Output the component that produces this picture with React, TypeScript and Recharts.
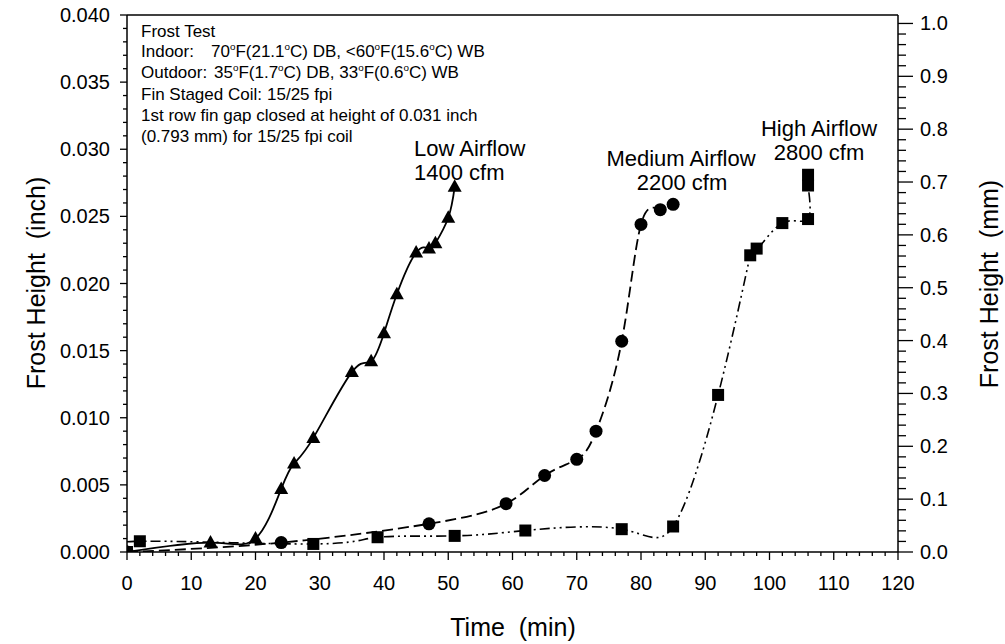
import React from 'react';
import { LineChart, Line, XAxis, YAxis, Customized } from 'recharts';

// Frost height readings (inch) against test time (min)
const lowTime = [0, 13, 20, 24, 26, 29, 35, 38, 40, 42, 45, 47, 48, 50, 51];
const lowFrost = [0, 0.0007, 0.001, 0.0047, 0.0066, 0.0085, 0.0134, 0.0142, 0.0163, 0.0192, 0.0223, 0.0226, 0.023, 0.0249, 0.0272];

const mediumTime = [0, 24, 47, 59, 65, 70, 73, 77, 80, 83, 85];
const mediumFrost = [0, 0.0007, 0.0021, 0.0036, 0.0057, 0.0069, 0.009, 0.0157, 0.0244, 0.0255, 0.0259];

const highTime = [0, 2, 29, 39, 51, 62, 77, 85, 92, 97, 98, 102, 106, 106, 106];
const highFrost = [0, 0.0008, 0.0006, 0.0011, 0.0012, 0.0016, 0.0017, 0.0019, 0.0117, 0.0221, 0.0226, 0.0245, 0.0248, 0.0273, 0.0281];

// axis ticks
const timeMajor = [0, 10, 20, 30, 40, 50, 60, 70, 80, 90, 100, 110, 120];
const timeMinorStep = 2;
const inchMajor = [0, 0.005, 0.01, 0.015, 0.02, 0.025, 0.03, 0.035, 0.04];
const inchMinorStep = 0.001;
const mmMajor = [0, 0.1, 0.2, 0.3, 0.4, 0.5, 0.6, 0.7, 0.8, 0.9, 1.0];
const mmMinorStep = 0.02;

const INCH_MAX = 0.04;
const MM_MAX = INCH_MAX * 25.4;

const withMinor = (major: number[], step: number) => {
  const out: number[] = [];
  const last = major[major.length - 1];
  const n = Math.round(last / step);
  for (let i = 0; i <= n; i++) out.push(+(i * step).toFixed(4));
  return out;
};
const isMajor = (major: number[], v: number) => major.some((m) => Math.abs(m - v) < 1e-7);

const toPoints = (t: number[], v: number[]) => t.map((x, i) => ({ t: x, v: v[i] }));
const lowData = toPoints(lowTime, lowFrost);
const mediumData = toPoints(mediumTime, mediumFrost);
const highData = toPoints(highTime, highFrost);

const FONT = '"Liberation Sans", Arial, Helvetica, sans-serif';
const TICK_FONT = 20;
const TITLE_FONT = 25;

const XTick = (props: any) => {
  const { x, y, payload } = props;
  const major = isMajor(timeMajor, payload.value);
  return (
    <g>
      <line x1={x} y1={y} x2={x} y2={y + (major ? 8 : 4)} stroke="#000" strokeWidth={1.3} />
      {major && (
        <text x={x} y={y + 38} textAnchor="middle" fontSize={TICK_FONT} fontFamily={FONT} fill="#000">
          {payload.value}
        </text>
      )}
    </g>
  );
};

const LeftTick = (props: any) => {
  const { x, y, payload } = props;
  const major = isMajor(inchMajor, payload.value);
  return (
    <g>
      <line x1={x} y1={y} x2={x - (major ? 7 : 4)} y2={y} stroke="#000" strokeWidth={1.3} />
      {major && (
        <text x={x - 17} y={y + 7} textAnchor="end" fontSize={TICK_FONT} fontFamily={FONT} fill="#000">
          {payload.value.toFixed(3)}
        </text>
      )}
    </g>
  );
};

const RightTick = (props: any) => {
  const { x, y, payload } = props;
  const major = isMajor(mmMajor, payload.value);
  return (
    <g>
      <line x1={x} y1={y} x2={x + (major ? 15 : 8)} y2={y} stroke="#000" strokeWidth={1.3} />
      {major && (
        <text x={x + 22} y={y + 7} textAnchor="start" fontSize={TICK_FONT} fontFamily={FONT} fill="#000">
          {payload.value.toFixed(1)}
        </text>
      )}
    </g>
  );
};

const triangleDot = (props: any) => {
  const { cx, cy, index } = props;
  return <path key={`tri-${index}`} d={`M${cx},${cy - 7.5}L${cx + 7},${cy + 5}L${cx - 7},${cy + 5}Z`} fill="#000" />;
};
const circleDot = (props: any) => {
  const { cx, cy, index } = props;
  return <circle key={`cir-${index}`} cx={cx} cy={cy} r={6.5} fill="#000" />;
};
const squareDot = (props: any) => {
  const { cx, cy, index } = props;
  return <rect key={`sq-${index}`} x={cx - 6} y={cy - 6} width={12} height={12} fill="#000" />;
};

// text with superscript "o" for degree marks
const DegText = ({ x, y, s, size }: { x: number; y: number; s: string; size: number }) => {
  const parts = s.split('°');
  const rise = size * 0.4;
  const kids: React.ReactNode[] = [];
  parts.forEach((p, i) => {
    if (i > 0) {
      kids.push(<tspan key={`o${i}`} fontSize={size * 0.58} dy={-rise}>o</tspan>);
      kids.push(<tspan key={`p${i}`} dy={rise}>{p}</tspan>);
    } else {
      kids.push(<tspan key={`p${i}`}>{p}</tspan>);
    }
  });
  return (
    <text x={x} y={y} fontSize={size} fontFamily={FONT} fill="#000">
      {kids}
    </text>
  );
};

const Annotations = () => {
  const s = 17;
  const big = 22;
  return (
    <g>
      <DegText x={141} y={37} s="Frost Test" size={s} />
      <DegText x={141} y={57} s="Indoor:" size={s} />
      <DegText x={211} y={57} s="70°F(21.1°C) DB, <60°F(15.6°C) WB" size={s} />
      <DegText x={141} y={78} s="Outdoor:" size={s} />
      <DegText x={214} y={78} s="35°F(1.7°C) DB, 33°F(0.6°C) WB" size={s} />
      <DegText x={141} y={100} s="Fin Staged Coil:" size={s} />
      <DegText x={267} y={100} s="15/25 fpi" size={s} />
      <DegText x={141} y={121} s="1st row fin gap closed at height of 0.031 inch" size={s} />
      <DegText x={141} y={142} s="(0.793 mm) for 15/25 fpi coil" size={s} />

      <text x={414} y={156} fontSize={big} fontFamily={FONT}>Low Airflow</text>
      <text x={414} y={180} fontSize={big} fontFamily={FONT}>1400 cfm</text>
      <text x={681} y={166} textAnchor="middle" fontSize={big} fontFamily={FONT}>Medium Airflow</text>
      <text x={682} y={190} textAnchor="middle" fontSize={big} fontFamily={FONT}>2200 cfm</text>
      <text x={819} y={136} textAnchor="middle" fontSize={big} fontFamily={FONT}>High Airflow</text>
      <text x={819} y={160} textAnchor="middle" fontSize={big} fontFamily={FONT}>2800 cfm</text>

      <text x={513} y={636} textAnchor="middle" fontSize={TITLE_FONT} fontFamily={FONT} style={{ whiteSpace: 'pre' }}>Time  (min)</text>
      <text x={36} y={283} textAnchor="middle" dominantBaseline="central" fontSize={TITLE_FONT} fontFamily={FONT}
        transform="rotate(-90 36 283)" style={{ whiteSpace: 'pre' }}>Frost Height  (inch)</text>
      <text x={989} y={284} textAnchor="middle" dominantBaseline="central" fontSize={TITLE_FONT} fontFamily={FONT}
        transform="rotate(-90 989 284)" style={{ whiteSpace: 'pre' }}>Frost Height  (mm)</text>
    </g>
  );
};

export default function App() {
  return (
    <div style={{ position: 'absolute', left: 0, top: 0, width: 1005, height: 644, background: '#fff' }}>
      <LineChart width={1005} height={644} margin={{ top: 0, right: 0, bottom: 0, left: 0 }}>
        <XAxis xAxisId="time" dataKey="t" type="number" domain={[0, 120]} ticks={withMinor(timeMajor, timeMinorStep)}
          interval={0} allowDataOverflow height={92} tickSize={0} tickMargin={0} tickLine={false}
          axisLine={{ stroke: '#000', strokeWidth: 1.5 }} tick={<XTick />} />
        <XAxis xAxisId="top" orientation="top" dataKey="t" type="number" domain={[0, 120]} height={15}
          tick={false} tickLine={false} axisLine={{ stroke: '#000', strokeWidth: 1.5 }} />
        <YAxis yAxisId="inch" type="number" domain={[0, INCH_MAX]} ticks={withMinor(inchMajor, inchMinorStep)}
          interval={0} allowDataOverflow width={127} tickSize={0} tickMargin={0} tickLine={false}
          axisLine={{ stroke: '#000', strokeWidth: 1.5 }} tick={<LeftTick />} />
        <YAxis yAxisId="mm" orientation="right" type="number" domain={[0, MM_MAX]} ticks={withMinor(mmMajor, mmMinorStep)}
          interval={0} allowDataOverflow width={107} tickSize={0} tickMargin={0} tickLine={false}
          axisLine={{ stroke: '#000', strokeWidth: 1.5 }} tick={<RightTick />} />

        <Line xAxisId="time" yAxisId="inch" data={lowData} dataKey="v" type="natural" stroke="#000" strokeWidth={1.8}
          dot={triangleDot} activeDot={false} isAnimationActive={false} />
        <Line xAxisId="time" yAxisId="inch" data={mediumData} dataKey="v" type="natural" stroke="#000" strokeWidth={1.8}
          strokeDasharray="11 5" dot={circleDot} activeDot={false} isAnimationActive={false} />
        <Line xAxisId="time" yAxisId="inch" data={highData} dataKey="v" type="natural" stroke="#000" strokeWidth={1.6}
          strokeDasharray="10 4 2 4 2 4" dot={squareDot} activeDot={false} isAnimationActive={false} />

        <Customized component={<Annotations />} />
      </LineChart>
    </div>
  );
}
